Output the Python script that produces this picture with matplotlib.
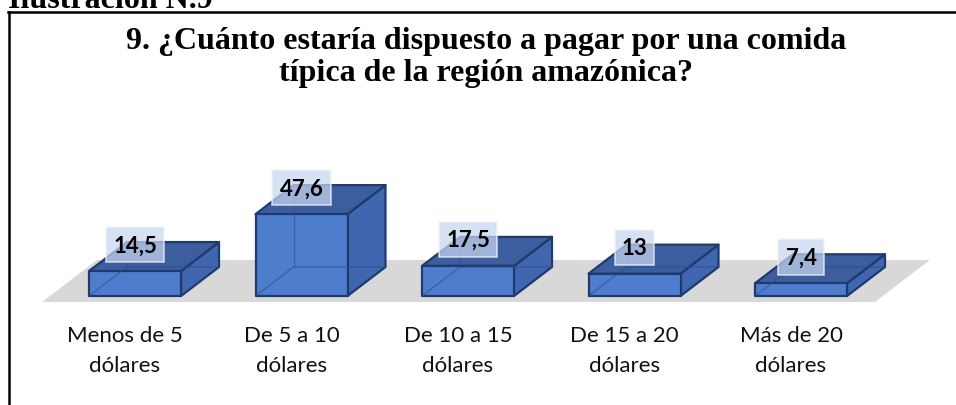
import matplotlib.pyplot as plt
from matplotlib.patches import Polygon
from matplotlib.lines import Line2D

caption = "Ilustración N.9"
title_lines = ["9. ¿Cuánto estaría dispuesto a pagar por una comida",
               "típica de la región amazónica?"]
categories = ["Menos de 5\ndólares", "De 5 a 10\ndólares", "De 10 a 15\ndólares",
              "De 15 a 20\ndólares", "Más de 20\ndólares"]
values = [14.5, 47.6, 17.5, 13, 7.4]
value_labels = ["14,5", "47,6", "17,5", "13", "7,4"]

W, H = 956, 406
fig = plt.figure(figsize=(W / 100, H / 100), dpi=100)
ax = fig.add_axes([0, 0, 1, 1])

# pixel layout: one category = 166.5 px, one unit = 1.72 px
px_cat, px_val = 166.5, 1.72
x0_px, base_px = 135, 297
ax.set_xlim(-x0_px / px_cat, (W - x0_px) / px_cat)
ax.set_ylim((base_px - H) / px_val, base_px / px_val)
ax.axis("off")

bar_w = 92 / px_cat
dx, dy = 38 / px_cat, 29 / px_val        # depth of the boxes
fdx, fdy = 55 / px_cat, 42 / px_val      # depth of the floor
floor_front = -6 / px_val
floor_l, floor_r = -0.558, 4.444

# floor
ax.add_patch(Polygon([(floor_l, floor_front), (floor_r, floor_front),
                      (floor_r + fdx, floor_front + fdy), (floor_l + fdx, floor_front + fdy)],
                     closed=True, fc="#d9d8d9", ec="none", zorder=1))

edge = "#1f3a6e"
for i, v in enumerate(values):
    xl, xr = i - bar_w / 2, i + bar_w / 2
    front = [(xl, 0), (xr, 0), (xr, v), (xl, v)]
    top = [(xl, v), (xr, v), (xr + dx, v + dy), (xl + dx, v + dy)]
    side = [(xr, 0), (xr + dx, dy), (xr + dx, v + dy), (xr, v)]
    ax.add_patch(Polygon(side, closed=True, fc="#3f66ae", ec=edge, lw=1.6, zorder=2, joinstyle="round"))
    ax.add_patch(Polygon(top, closed=True, fc="#3c5e9f", ec=edge, lw=1.6, zorder=2, joinstyle="round"))
    ax.add_patch(Polygon(front, closed=True, fc="#4f7dce", ec=edge, lw=1.6, zorder=3, joinstyle="round"))
    # hidden edges seen through the glass
    ax.plot([xl, xl + dx, xr + dx], [0, dy, dy], color="#2b4b88", lw=1, alpha=0.55, zorder=4)
    ax.plot([xl + dx, xl + dx], [dy, v + dy], color="#2b4b88", lw=1, alpha=0.55, zorder=4)

    ax.text(i, v + 15.3, value_labels[i], ha="center", va="center",
            fontsize=16, fontweight="bold", family="Lato", color="black", zorder=6,
            bbox=dict(boxstyle="square,pad=0.32", fc="#c8d6f0", ec="#f2f5fb", lw=1.2, alpha=0.72))

    line1, line2 = categories[i].split("\n")
    ax.text(i - 0.06, -45 / px_val, line1, ha="center", va="baseline",
            fontsize=16, family="Lato", color="#111111")
    ax.text(i - 0.06, -75 / px_val, line2, ha="center", va="baseline",
            fontsize=16, family="Lato", color="#111111")

# frame and texts around the chart
fig.add_artist(Line2D([8.5 / W, 8.5 / W], [0, 1 - 13 / H], color="black", lw=1.8))
fig.add_artist(Line2D([7.5 / W, 1], [1 - 13 / H, 1 - 13 / H], color="black", lw=1.8))
fig.text(8 / W, 1 - 8 / H, caption, ha="left", va="baseline",
         fontsize=23, fontweight="bold", family="Liberation Serif")
fig.text(486 / W, 1 - 49 / H, title_lines[0], ha="center", va="baseline",
         fontsize=23, fontweight="bold", family="Liberation Serif")
fig.text(486 / W, 1 - 81 / H, title_lines[1], ha="center", va="baseline",
         fontsize=23, fontweight="bold", family="Liberation Serif")

fig.savefig("out.png", dpi=100)
